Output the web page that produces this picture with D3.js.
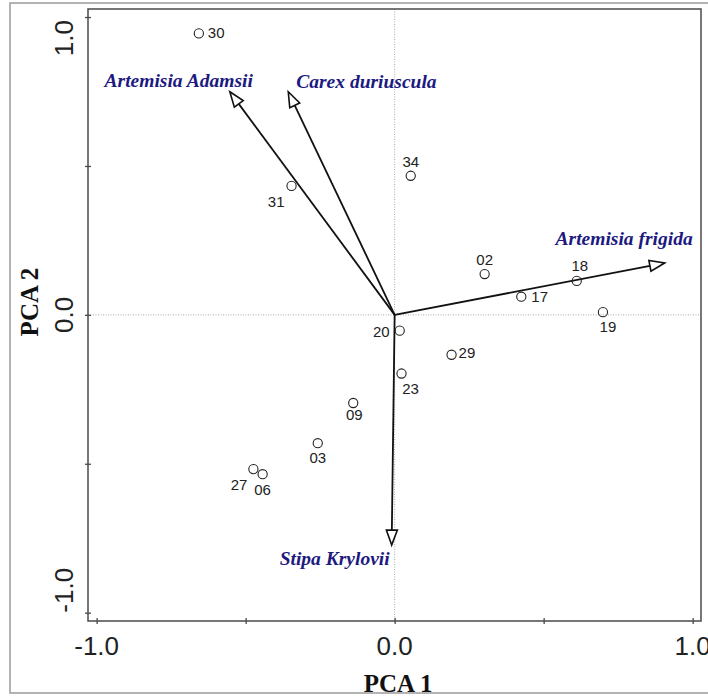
<!DOCTYPE html>
<html>
<head>
<meta charset="utf-8">
<script src="https://cdn.jsdelivr.net/npm/d3@7"></script>
<style>
  html, body { margin: 0; padding: 0; background: #fff; }
  svg { display: block; }
</style>
</head>
<body>
<div id="chart"></div>
<script>
// site scores (PCA 1, PCA 2)
const siteIds = ['30', '31', '34', '02', '17', '18', '19', '20', '29', '23', '09', '03', '27', '06'];
const siteX = [-0.657, -0.346, 0.054, 0.302, 0.425, 0.611, 0.699, 0.017, 0.191, 0.023, -0.139, -0.258, -0.474, -0.443];
const siteY = [0.945, 0.433, 0.467, 0.137, 0.061, 0.114, 0.009, -0.053, -0.134, -0.197, -0.296, -0.431, -0.518, -0.535];

// species loadings (arrow tips)
const species = ['Artemisia Adamsii', 'Carex duriuscula', 'Artemisia frigida', 'Stipa Krylovii'];
const speciesX = [-0.553, -0.357, 0.906, -0.010];
const speciesY = [0.749, 0.749, 0.174, -0.773];

const tickValues = [-1, -0.5, 0, 0.5, 1];
const tickLabels = ['-1.0', '', '0.0', '', '1.0'];

// label placement around each site marker
const siteLabelPos = {
  '30': ['start', 9, 5], '31': ['end', -7, 21], '34': ['middle', 0, -9],
  '02': ['middle', 0, -9], '17': ['start', 10, 5], '18': ['middle', 3, -10],
  '19': ['middle', 5, 20], '20': ['end', -10, 6], '29': ['start', 7, 3],
  '23': ['middle', 9, 20], '09': ['middle', 1, 17], '03': ['middle', 0, 20],
  '27': ['end', -6, 21], '06': ['middle', 0, 21]
};
const speciesLabelPos = {
  'Artemisia Adamsii': ['end', 23, -5],
  'Carex duriuscula': ['start', 8, -4],
  'Artemisia frigida': ['end', 28, -18],
  'Stipa Krylovii': ['end', -2, 20]
};

const width = 708, height = 696;
const x = d3.scaleLinear().domain([-1.029, 1.028]).range([88, 701]);
const y = d3.scaleLinear().domain([-1.028, 1.027]).range([621, 9]);

const svg = d3.select('#chart').append('svg')
  .attr('width', width)
  .attr('height', height);

// outer frame
svg.append('rect')
  .attr('x', 10).attr('y', 3)
  .attr('width', 740).attr('height', 690)
  .attr('fill', 'none')
  .attr('stroke', '#9a9a9a')
  .attr('stroke-width', 1.5);

// zero reference lines
svg.append('line')
  .attr('x1', x(0)).attr('x2', x(0))
  .attr('y1', y.range()[1]).attr('y2', y.range()[0])
  .attr('stroke', '#a8a8a8').attr('stroke-width', 1)
  .attr('stroke-dasharray', '1 1.5');
svg.append('line')
  .attr('x1', x.range()[0]).attr('x2', x.range()[1])
  .attr('y1', y(0)).attr('y2', y(0))
  .attr('stroke', '#a8a8a8').attr('stroke-width', 1)
  .attr('stroke-dasharray', '1 1.5');

// plot frame
svg.append('rect')
  .attr('x', x.range()[0]).attr('y', y.range()[1])
  .attr('width', x.range()[1] - x.range()[0])
  .attr('height', y.range()[0] - y.range()[1])
  .attr('fill', 'none')
  .attr('stroke', '#4a4a4a')
  .attr('stroke-width', 1.5);

// axes
const xAxis = svg.append('g')
  .attr('transform', `translate(0,${y.range()[0]})`)
  .call(d3.axisBottom(x).tickValues(tickValues).tickSizeInner(3).tickSizeOuter(0).tickFormat(() => ''));
const yAxis = svg.append('g')
  .attr('transform', `translate(${x.range()[0]},0)`)
  .call(d3.axisLeft(y).tickValues(tickValues).tickSizeInner(3).tickSizeOuter(0).tickFormat(() => ''));
[xAxis, yAxis].forEach((a) => {
  a.select('.domain').remove();
  a.selectAll('.tick line').attr('stroke', '#4a4a4a').attr('stroke-width', 1.3);
});
xAxis.selectAll('.tick line').attr('y1', -3);
yAxis.selectAll('.tick line').attr('x1', 3);

const tickFont = '"Liberation Sans", Arial, sans-serif';
svg.append('g').selectAll('text')
  .data(tickValues.map((v, i) => [v, tickLabels[i]]).filter((d) => d[1]))
  .join('text')
  .attr('x', (d) => x(d[0]))
  .attr('y', 655)
  .attr('text-anchor', 'middle')
  .attr('font-family', tickFont)
  .attr('font-size', 26)
  .attr('fill', '#222')
  .text((d) => d[1]);

svg.append('g').selectAll('text')
  .data(tickValues.map((v, i) => [v, tickLabels[i]]).filter((d) => d[1]))
  .join('text')
  .attr('transform', (d) => {
    const off = d[0] === 1 ? 3 : 0;
    return `translate(73,${y(d[0]) + off}) rotate(-90)`;
  })
  .attr('text-anchor', (d) => (d[0] === 1 ? 'end' : d[0] === -1 ? 'start' : 'middle'))
  .attr('font-family', tickFont)
  .attr('font-size', 26)
  .attr('fill', '#222')
  .text((d) => d[1]);

// axis titles
svg.append('text')
  .attr('x', 398).attr('y', 692)
  .attr('text-anchor', 'middle')
  .attr('font-family', '"Liberation Serif", "Times New Roman", serif')
  .attr('font-weight', 'bold')
  .attr('font-size', 25)
  .attr('fill', '#111')
  .text('PCA 1');
svg.append('text')
  .attr('transform', 'translate(38,302) rotate(-90)')
  .attr('text-anchor', 'middle')
  .attr('font-family', '"Liberation Serif", "Times New Roman", serif')
  .attr('font-weight', 'bold')
  .attr('font-size', 25)
  .attr('fill', '#111')
  .text('PCA 2');

// species arrows
const headLen = 15, headHalf = 5.5;
const arrows = svg.append('g');
species.forEach((name, i) => {
  const x0 = x(0), y0 = y(0);
  const tx = x(speciesX[i]), ty = y(speciesY[i]);
  const len = Math.hypot(tx - x0, ty - y0);
  const ux = (tx - x0) / len, uy = (ty - y0) / len;
  const bx = tx - ux * headLen, by = ty - uy * headLen;
  arrows.append('line')
    .attr('x1', x0).attr('y1', y0)
    .attr('x2', bx).attr('y2', by)
    .attr('stroke', '#111')
    .attr('stroke-width', 1.8);
  arrows.append('polygon')
    .attr('points', [
      [tx, ty],
      [bx - uy * headHalf, by + ux * headHalf],
      [bx + uy * headHalf, by - ux * headHalf]
    ].map((p) => p.join(',')).join(' '))
    .attr('fill', '#fff')
    .attr('stroke', '#111')
    .attr('stroke-width', 1.6)
    .attr('stroke-linejoin', 'miter');
  const pos = speciesLabelPos[name];
  arrows.append('text')
    .attr('x', tx + pos[1])
    .attr('y', ty + pos[2])
    .attr('text-anchor', pos[0])
    .attr('font-family', '"Liberation Serif", "Times New Roman", serif')
    .attr('font-style', 'italic')
    .attr('font-weight', 'bold')
    .attr('font-size', 19.5)
    .attr('fill', '#1c1a80')
    .text(name);
});

// site points
const sites = svg.append('g');
siteIds.forEach((id, i) => {
  const cx = x(siteX[i]), cy = y(siteY[i]);
  sites.append('circle')
    .attr('cx', cx).attr('cy', cy)
    .attr('r', 4.6)
    .attr('fill', 'none')
    .attr('stroke', '#222')
    .attr('stroke-width', 1.1);
  const pos = siteLabelPos[id];
  sites.append('text')
    .attr('x', cx + pos[1])
    .attr('y', cy + pos[2])
    .attr('text-anchor', pos[0])
    .attr('font-family', tickFont)
    .attr('font-size', 15)
    .attr('fill', '#222')
    .text(id);
});
</script>
</body>
</html>
